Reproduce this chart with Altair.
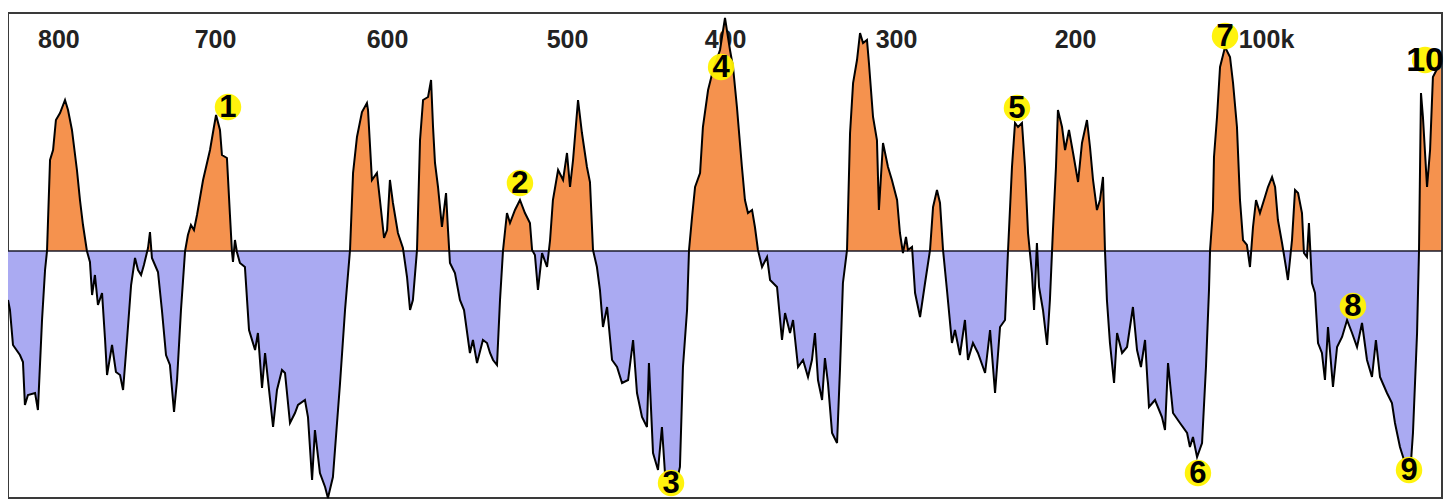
import altair as alt
import pandas as pd

# ---- series (age in kyr before present, relative anomaly) ----
age_kyr = [
    805.0, 803.9, 802.2, 798.3, 796.6, 795.5, 793.8, 789.8, 788.2, 785.9, 784.2, 783.1,
    781.4, 779.7, 778.1, 775.8, 773.0, 771.3, 769.1, 766.3, 764.6, 762.9, 760.7, 759.0,
    757.8, 756.2, 754.5, 752.2, 750.5, 749.4, 746.6, 744.4, 742.1, 740.4, 738.2, 735.9,
    733.7, 732.0, 730.3, 728.7, 726.4, 725.3, 724.2, 722.5, 720.8, 718.6, 716.3, 714.1,
    711.8, 710.1, 707.9, 705.6, 704.0, 702.3, 700.6, 698.9, 695.5, 691.6, 689.4, 688.2,
    686.0, 684.9, 682.1, 680.4, 679.3, 678.7, 677.6, 676.5, 674.8, 672.0, 669.7, 666.3,
    664.7, 662.4, 660.7, 656.2, 654.0, 651.2, 649.5, 646.7, 643.9, 642.2, 638.3, 636.6,
    634.3, 632.7, 629.9, 627.0, 625.4, 622.6, 618.6, 615.8, 613.0, 611.3, 609.1, 606.3,
    603.5, 602.9, 600.7, 597.9, 596.2, 593.9, 592.2, 590.6, 588.9, 586.1, 583.3, 581.0,
    579.3, 577.7, 575.4, 573.7, 572.0, 569.2, 567.5, 566.4, 565.3, 563.6, 561.4, 559.1,
    558.0, 556.9, 554.1, 551.3, 549.0, 545.7, 544.0, 541.7, 538.4, 536.1, 534.4, 532.7,
    530.5, 528.8, 527.1, 524.9, 523.2, 520.4, 517.6, 514.8, 512.0, 510.8, 509.2, 507.5,
    505.2, 502.4, 500.7, 499.1, 496.2, 493.4, 491.2, 489.5, 487.8, 485.0, 482.8, 480.0,
    478.3, 476.6, 474.4, 472.7, 471.0, 468.7, 465.9, 463.1, 460.3, 456.9, 454.1, 451.9,
    449.1, 446.3, 445.2, 442.9, 440.1, 437.9, 436.2, 433.4, 429.4, 427.8, 426.1, 423.8,
    422.7, 421.0, 419.3, 416.5, 414.9, 412.0, 409.2, 405.3, 402.5, 399.7, 398.0, 395.8,
    395.2, 393.0, 391.3, 389.6, 387.3, 385.7, 384.0, 381.7, 378.9, 377.2, 373.3, 370.5,
    368.8, 366.0, 364.3, 361.5, 358.7, 355.9, 353.7, 352.0, 350.3, 348.0, 346.4, 344.7,
    342.4, 339.6, 337.9, 336.3, 334.0, 332.3, 330.6, 328.4, 326.7, 325.0, 322.8, 321.7,
    319.4, 317.2, 316.1, 313.8, 311.0, 308.8, 305.9, 304.3, 302.6, 300.9, 299.8, 297.5,
    295.8, 293.0, 290.2, 287.4, 285.7, 283.5, 281.8, 280.1, 277.9, 275.1, 273.4, 270.6,
    267.8, 266.1, 263.3, 260.5, 256.5, 253.7, 250.9, 248.1, 245.3, 243.6, 241.4, 239.7,
    238.0, 235.8, 234.1, 232.4, 230.2, 229.0, 227.4, 226.2, 224.0, 221.7, 220.1, 218.4,
    216.7, 215.6, 213.3, 211.6, 209.4, 207.1, 204.3, 202.1, 199.3, 197.6, 195.9, 193.7,
    192.0, 190.3, 189.2, 188.1, 186.4, 184.1, 182.4, 179.6, 176.8, 173.5, 171.2, 169.0,
    166.7, 164.5, 161.1, 157.2, 155.5, 153.8, 151.0, 147.1, 143.1, 141.5, 139.8, 137.5,
    134.7, 132.5, 130.8, 130.2, 128.6, 128.0, 126.3, 124.6, 121.8, 119.0, 117.3, 115.1,
    113.4, 111.7, 109.5, 107.8, 106.1, 104.4, 102.2, 99.4, 97.7, 95.4, 93.7, 92.1,
    89.8, 87.6, 86.5, 84.2, 82.5, 80.8, 78.6, 77.5, 75.8, 74.7, 73.0, 71.3,
    69.6, 67.4, 65.7, 64.0, 61.2, 58.9, 56.1, 53.3, 50.5, 47.7, 44.9, 42.1,
    39.3, 37.1, 34.8, 30.9, 28.1, 26.4, 23.6, 20.8, 18.0, 16.3, 14.0, 12.9,
    11.8, 10.7, 8.4, 6.7, 5.1, 2.2, 0.6,
]
anomaly = [
    -49, -59, -94, -104, -111, -154, -144, -142, -159, -69, -19, 0,
    91, 101, 131, 138, 151, 141, 121, 81, 51, 26, 0, -11,
    -44, -24, -54, -42, -89, -124, -94, -121, -124, -139, -89, -34,
    -7, -19, -24, -14, 3, 19, -7, -14, -21, -59, -104, -114,
    -161, -129, -59, 0, 16, 26, 21, 36, 71, 101, 124, 136,
    121, 96, 93, 36, 0, -11, 11, -1, -12, -16, -79, -99,
    -82, -137, -102, -176, -139, -119, -122, -172, -162, -154, -149, -166,
    -229, -179, -222, -236, -247, -226, -132, -59, 1, 78, 114, 139,
    148, 141, 71, 78, 51, 13, 21, 71, 48, 18, 3, -26,
    -59, -49, 1, 111, 151, 154, 171, 124, 88, 64, 24, 58,
    21, -12, -22, -49, -59, -102, -89, -112, -89, -92, -102, -109,
    -114, -49, 1, 38, 28, 41, 51, 38, 28, 1, -4, -39,
    -2, -16, 11, 51, 81, 71, 98, 64, 91, 151, 118, 84,
    69, 1, -16, -39, -76, -56, -109, -116, -132, -129, -89, -142,
    -166, -176, -112, -202, -219, -176, -222, -229, -229, -216, -116, -59,
    1, 34, 64, 78, 124, 161, 181, 201, 233, 201, 184, 144,
    131, 84, 51, 38, 41, 24, 1, -16, -6, -29, -36, -89,
    -62, -82, -69, -116, -109, -126, -109, -82, -129, -149, -107, -132,
    -182, -192, -116, -32, 1, 118, 168, 191, 218, 208, 211, 188,
    134, 111, 41, 108, 84, 71, 51, 18, -2, 14, 1, 4,
    -42, -66, -32, 1, 44, 61, 48, 1, -39, -92, -79, -104,
    -69, -109, -92, -102, -122, -79, -142, -76, -69, 1, 84, 128,
    124, 128, 84, 18, -22, -59, 8, -36, -59, -94, -49, 21,
    84, 141, 124, 101, 121, 98, 69, 108, 131, 104, 71, 41,
    51, 74, 1, -49, -92, -132, -82, -102, -96, -56, -99, -116,
    -89, -156, -149, -166, -179, -112, -162, -172, -182, -196, -186, -206,
    -192, -116, -39, 1, 41, 94, 134, 184, 204, 194, 168, 124,
    51, 11, 6, -16, 24, 51, 38, 54, 64, 74, 64, 31,
    8, -16, -29, 11, 61, 58, 38, -2, -6, 28, -32, -42,
    -92, -102, -129, -76, -136, -96, -86, -69, -82, -96, -72, -109,
    -126, -89, -126, -142, -152, -172, -196, -212, -226, -182, -82, 1,
    158, 134, 64, 101, 174, 184, 188,
]

# ---- top axis tick labels, placed where the picture prints them ----
tick_ages = [776.7, 688.8, 592.2, 491.2, 402.5, 306.5, 206.0, 98.8]
tick_labels = ["800", "700", "600", "500", "400", "300", "200", "100k"]

# ---- numbered yellow markers ----
marker_ages = [681.5, 517.6, 432.8, 404.7, 238.6, 137.0, 121.8, 50.0, 18.5, 9.5]
marker_values = [144, 68, -232, 184, 143, -222, 215, -55, -219, 191]
marker_labels = ["1", "2", "3", "4", "5", "6", "7", "8", "9", "10"]

# build the table, inserting zero crossings so the two fills meet cleanly
rows = []
for i in range(len(age_kyr)):
    if i > 0:
        a0, v0 = age_kyr[i - 1], anomaly[i - 1]
        a1, v1 = age_kyr[i], anomaly[i]
        if (v0 < 0 < v1) or (v0 > 0 > v1):
            f = v0 / (v0 - v1)
            rows.append({"age": a0 + f * (a1 - a0), "v": 0.0})
    rows.append({"age": age_kyr[i], "v": float(anomaly[i])})
df = pd.DataFrame(rows)
df["pos"] = df["v"].clip(lower=0)
df["neg"] = df["v"].clip(upper=0)

markers = pd.DataFrame({"age": marker_ages, "v": marker_values, "label": marker_labels})
zero = pd.DataFrame({"z": [0]})

label_expr = " : ".join(
    f"abs(datum.value - {t}) < 0.05 ? '{l}'" for t, l in zip(tick_ages, tick_labels)
) + " : ''"

xscale = alt.Scale(domain=[0, 805], reverse=True, nice=False, zero=False)
yscale = alt.Scale(domain=[-247, 238], nice=False, zero=False)

xaxis = alt.Axis(
    orient="top", values=tick_ages, labelExpr=label_expr, title=None,
    domain=False, ticks=False, grid=False, labelPadding=-34,
    labelBaseline="alphabetic", labelFontSize=25, labelFontWeight="bold",
    labelFont="Liberation Sans", labelColor="#222222", labelFlush=False,
    labelOverlap=False,
)

base = alt.Chart(df)

pos_area = base.mark_area(color="#F5924E", opacity=1).encode(
    x=alt.X("age:Q", scale=xscale, axis=xaxis),
    y=alt.Y("pos:Q", scale=yscale, axis=None),
    y2=alt.datum(0),
)
neg_area = base.mark_area(color="#AAAAF2", opacity=1).encode(
    x=alt.X("age:Q", scale=xscale),
    y=alt.Y("neg:Q", scale=yscale),
    y2=alt.datum(0),
)
zero_line = alt.Chart(zero).mark_rule(color="#1a1a2a", strokeWidth=1.6).encode(
    y=alt.Y("z:Q", scale=yscale)
)
curve = base.mark_line(color="#000000", strokeWidth=2).encode(
    x=alt.X("age:Q", scale=xscale),
    y=alt.Y("v:Q", scale=yscale),
)
dots = alt.Chart(markers).mark_circle(color="#FFF200", opacity=0.95, size=700).encode(
    x=alt.X("age:Q", scale=xscale),
    y=alt.Y("v:Q", scale=yscale),
)
nums = alt.Chart(markers).mark_text(
    font="Liberation Sans", fontWeight="bold", color="#000000",
    align="center", baseline="middle", dy=1,
).encode(
    x=alt.X("age:Q", scale=xscale),
    y=alt.Y("v:Q", scale=yscale),
    text="label:N",
    size=alt.condition(alt.datum.label == "10", alt.value(34), alt.value(31)),
)

chart = (
    alt.layer(pos_area, neg_area, zero_line, curve, dots, nums)
    .properties(
        width=1434, height=485,
        padding={"left": 0, "top": 5, "right": 5, "bottom": 4},
        autosize=alt.AutoSizeParams(type="none"),
        background="#ffffff",
    )
    .configure_view(stroke="#3a3a3a", strokeWidth=2)
)

chart.save("out.html", embed_options={"renderer": "svg", "actions": False})
